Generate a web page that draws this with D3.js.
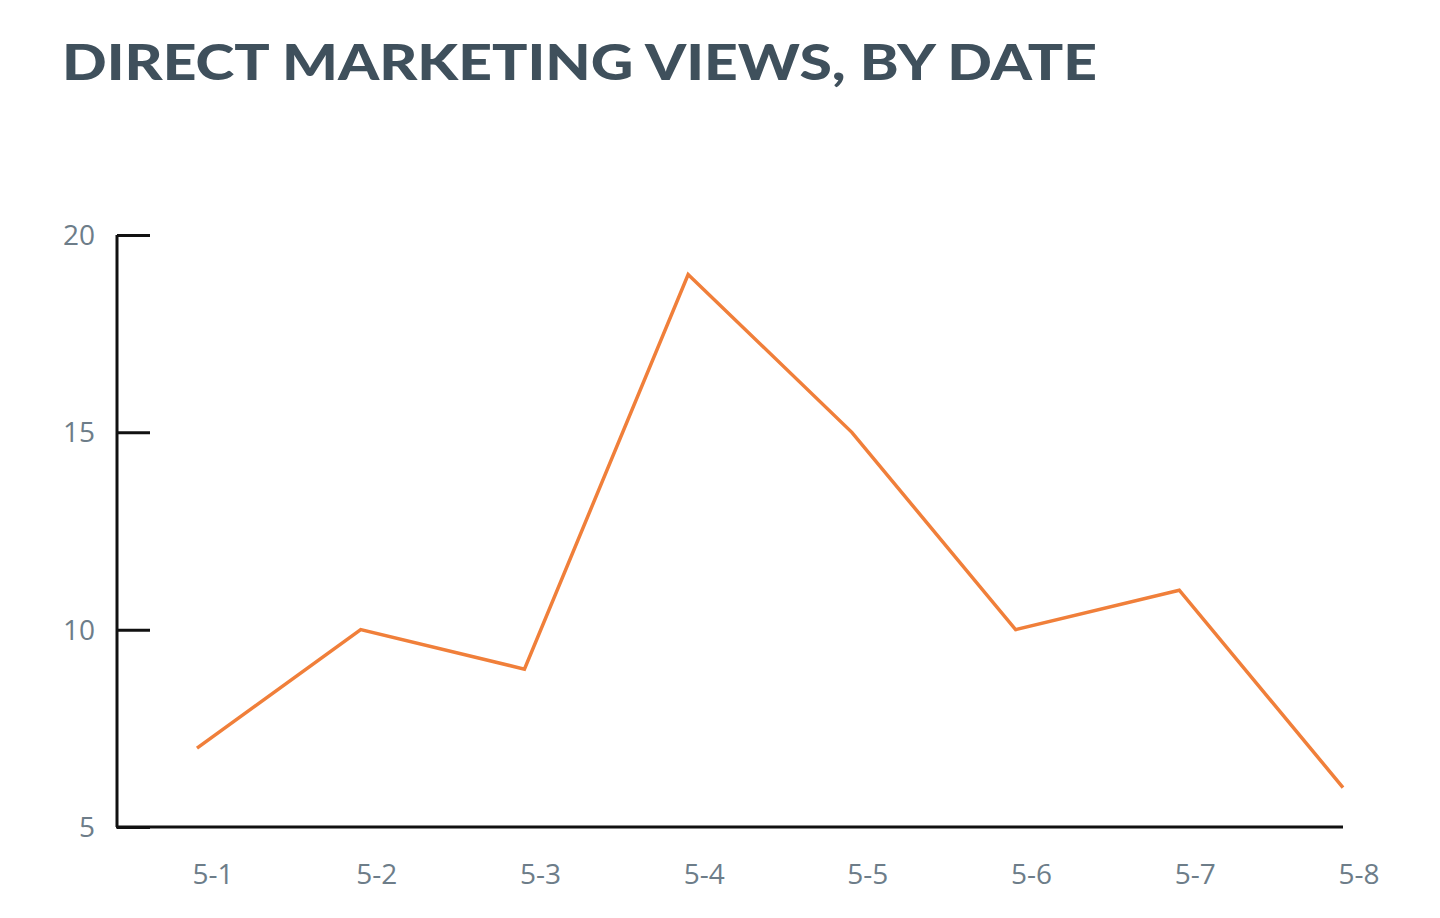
<!doctype html>
<html>
<head>
<meta charset="utf-8">
<script src="https://cdnjs.cloudflare.com/ajax/libs/d3/7.8.5/d3.min.js"></script>
<style>
  body { margin: 0; background: white; }
  svg { background: white; display: block; }
</style>
</head>
<body>
<svg width="1440" height="918"></svg>
<script>
const dates = ["5-1", "5-2", "5-3", "5-4", "5-5", "5-6", "5-7", "5-8"];
const views = [7, 10, 9, 19, 15, 10, 11, 6];
const yTicks = [5, 10, 15, 20];

const svg = d3.select("svg");

svg.append("text")
  .attr("x", 62).attr("y", 80)
  .attr("textLength", 1035)
  .attr("lengthAdjust", "spacingAndGlyphs")
  .style("font-family", "Lato, 'Open Sans', sans-serif")
  .style("font-weight", 900)
  .style("font-size", "50px")
  .style("fill", "#3f505c")
  .text("DIRECT MARKETING VIEWS, BY DATE");

const x = d3.scalePoint().domain(dates).range([197, 1343]);
const y = d3.scaleLinear().domain([5, 20]).range([827, 235]);

// y axis
const yAxis = svg.append("g").attr("transform", "translate(117,0)")
  .call(d3.axisRight(y).tickValues(yTicks).tickSize(33).tickFormat(""));
yAxis.select(".domain").attr("d", "M0,235V827").attr("stroke", "#111").attr("stroke-width", 3);
yAxis.selectAll(".tick line").attr("stroke", "#111").attr("stroke-width", 3);

svg.selectAll(".ylab").data(yTicks).enter().append("text")
  .attr("x", 95).attr("y", d => y(d) + 10)
  .attr("text-anchor", "end")
  .style("font-family", "'Open Sans', sans-serif")
  .style("font-size", "28px")
  .style("fill", "#6d7d89")
  .text(d => d);

// x axis line
svg.append("line")
  .attr("x1", 116).attr("x2", 1343)
  .attr("y1", y(5)).attr("y2", y(5))
  .attr("stroke", "#111").attr("stroke-width", 3);

svg.selectAll(".xlab").data(dates).enter().append("text")
  .attr("x", d => x(d) + 16).attr("y", 884)
  .attr("text-anchor", "middle")
  .style("font-family", "'Open Sans', sans-serif")
  .style("font-size", "28px")
  .style("fill", "#6d7d89")
  .text(d => d);

const line = d3.line().x((d, i) => x(dates[i])).y(d => y(d));
svg.append("path")
  .datum(views)
  .attr("d", line)
  .attr("fill", "none")
  .attr("stroke", "#f07f3a")
  .attr("stroke-width", 3.5);
</script>
</body>
</html>
